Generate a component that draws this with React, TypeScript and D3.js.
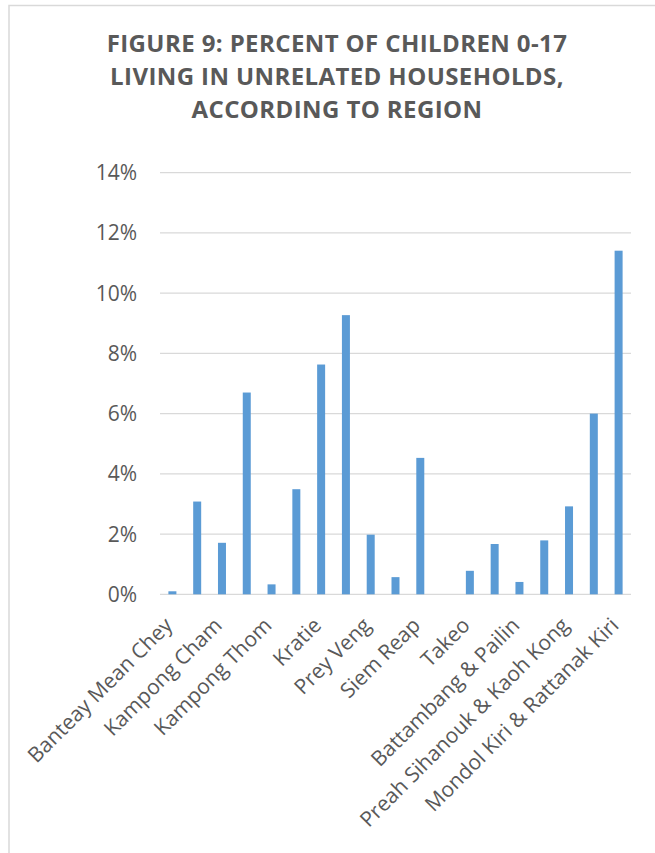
import React from "react";
import * as d3 from "d3";

const titleLines = [
  "FIGURE 9: PERCENT OF CHILDREN 0-17",
  "LIVING IN UNRELATED HOUSEHOLDS,",
  "ACCORDING TO REGION",
];

const categories = [
  "Banteay Mean Chey",
  "Kampong Chhnang",
  "Kampong Cham",
  "Kampong Speu",
  "Kampong Thom",
  "Kandal",
  "Kratie",
  "Phnom Penh",
  "Prey Veng",
  "Pursat",
  "Siem Reap",
  "Svay Rieng",
  "Takeo",
  "Otdar Mean Chey",
  "Battambang & Pailin",
  "Kampot & Kep",
  "Preah Sihanouk & Kaoh Kong",
  "Preah Vihear & Steung Treng",
  "Mondol Kiri & Rattanak Kiri",
];

const values = [
  0.001, 0.0308, 0.0171, 0.067, 0.0033, 0.0349, 0.0763, 0.0927, 0.0198,
  0.0057, 0.0453, 0.0, 0.0078, 0.0167, 0.0041, 0.0179, 0.0292, 0.06, 0.1141,
];

const yTicks = [0, 0.02, 0.04, 0.06, 0.08, 0.1, 0.12, 0.14];

const W = 655;
const H = 853;
const plotLeft = 160;
const plotRight = 631;
const plotTop = 172.7;
const plotBottom = 594.3;

const TEXT = "#595959";
const GRID = "#d9d9d9";
const BAR = "#5b9bd5";
const FONT = "'Open Sans', 'Noto Sans', sans-serif";

export default function App() {
  const x = d3.scaleBand<string>().domain(categories).range([plotLeft, plotRight]).padding(0);
  const y = d3.scaleLinear().domain([0, 0.14]).range([plotBottom, plotTop]);
  const barW = x.bandwidth() / 3.1;
  const fmt = d3.format(".0%");

  return (
    <svg
      width={W}
      height={H}
      style={{ position: "absolute", left: 0, top: 0, background: "#fff" }}
    >
      <rect x={9} y={5.5} width={700} height={900} fill="#fff" stroke={GRID} strokeWidth={1.5} />

      {titleLines.map((t, i) => (
        <text
          key={t}
          x={337}
          y={51.7 + i * 33.3}
          textAnchor="middle"
          fontFamily={FONT}
          fontWeight={700}
          fontSize={24}
          letterSpacing={0.4}
          fill={TEXT}
        >
          {t}
        </text>
      ))}

      {yTicks.map((t) => (
        <g key={t}>
          <line x1={plotLeft} x2={plotRight} y1={y(t)} y2={y(t)} stroke={GRID} strokeWidth={1.3} />
          <text
            x={137}
            y={y(t)}
            dy="0.36em"
            textAnchor="end"
            fontFamily={FONT}
            fontSize={21}
            fill={TEXT}
          >
            {fmt(t)}
          </text>
        </g>
      ))}

      {categories.map((c, i) => {
        const v = values[i];
        const cx = (x(c) as number) + x.bandwidth() / 2;
        if (v <= 0) return null;
        return (
          <rect
            key={c}
            x={cx - barW / 2}
            y={y(v)}
            width={barW}
            height={y(0) - y(v)}
            fill={BAR}
          />
        );
      })}

      {categories.map((c, i) => {
        if (i % 2 !== 0) return null;
        const cx = (x(c) as number) + x.bandwidth() / 2;
        return (
          <text
            key={c}
            transform={`translate(${cx - 4},${plotBottom + 27}) rotate(-45)`}
            textAnchor="end"
            dy="0.36em"
            fontFamily={FONT}
            fontSize={21}
            fill={TEXT}
          >
            {c}
          </text>
        );
      })}
    </svg>
  );
}
